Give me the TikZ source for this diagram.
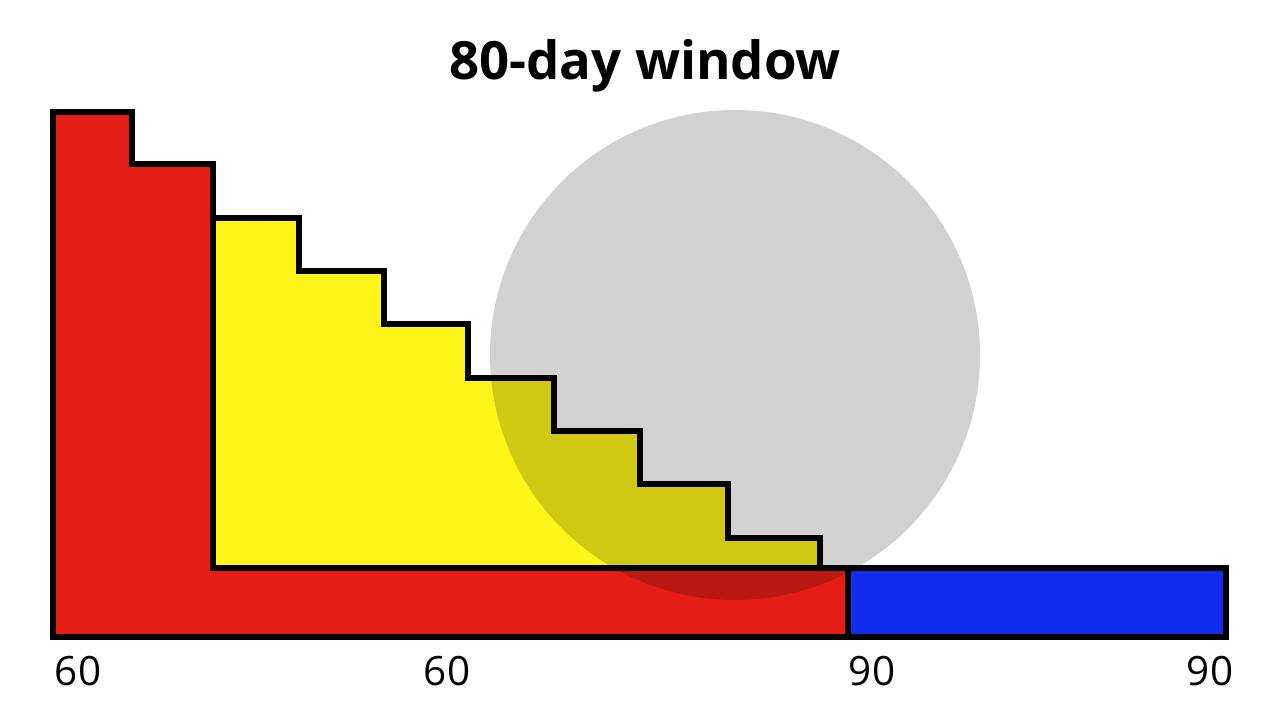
\documentclass[tikz,border=0pt]{standalone}
\usepackage{fontspec}
\setmainfont{Open Sans}
\usepackage{tikz}
\definecolor{barred}{RGB}{228,30,22}
\definecolor{baryellow}{RGB}{255,245,25}
\definecolor{barblue}{RGB}{18,45,240}

\begin{document}
\begin{tikzpicture}[line width=1.9pt, line join=miter]

\useasboundingbox (0,0) rectangle (12.8,7.2);
\fill [white] (0,0) rectangle (12.8,7.2);

%\draw [help lines, step=1cm](0,0) grid (12.8,7.2);
\fill [barred] (0.53,6.08) -- (1.32,6.08) -- (1.32,5.56) -- (2.13,5.56) -- (2.13,1.52) -- (8.48,1.52) -- (8.48,0.83) -- (0.53,0.83) -- cycle;
\fill [baryellow] (2.13,5.02) -- (2.99,5.02) -- (2.99,4.49) -- (3.84,4.49) -- (3.84,3.96) -- (4.68,3.96) -- (4.68,3.42) -- (5.54,3.42) -- (5.54,2.89) -- (6.40,2.89) -- (6.40,2.36) -- (7.28,2.36) -- (7.28,1.82) -- (8.20,1.82) -- (8.20,1.52) -- (2.13,1.52) -- cycle;
\fill [barblue] (8.48,0.83) rectangle (12.26,1.52);

\fill [black, opacity=0.18] (7.35,3.65) circle (2.45);

\draw (0.53,6.08) -- (1.32,6.08) -- (1.32,5.56) -- (2.13,5.56) -- (2.13,1.52) -- (8.48,1.52) -- (8.48,0.83) -- (0.53,0.83) -- cycle;
\draw (2.13,5.02) -- (2.99,5.02) -- (2.99,4.49) -- (3.84,4.49) -- (3.84,3.96) -- (4.68,3.96) -- (4.68,3.42) -- (5.54,3.42) -- (5.54,2.89) -- (6.40,2.89) -- (6.40,2.36) -- (7.28,2.36) -- (7.28,1.82) -- (8.20,1.82) -- (8.20,1.52);
\draw (8.48,0.83) rectangle (12.26,1.52);

\node (title) at (6.45,6.54) {\fontsize{15}{18}\selectfont\bfseries 80-day window};

\node (lblA) at (0.78,0.49) {\fontsize{11.5}{13}\selectfont 60};
\node (lblB) at (4.47,0.49) {\fontsize{11.5}{13}\selectfont 60};
\node (lblC) at (8.72,0.49) {\fontsize{11.5}{13}\selectfont 90};
\node (lblD) at (12.10,0.49) {\fontsize{11.5}{13}\selectfont 90};

\end{tikzpicture}
\end{document}
